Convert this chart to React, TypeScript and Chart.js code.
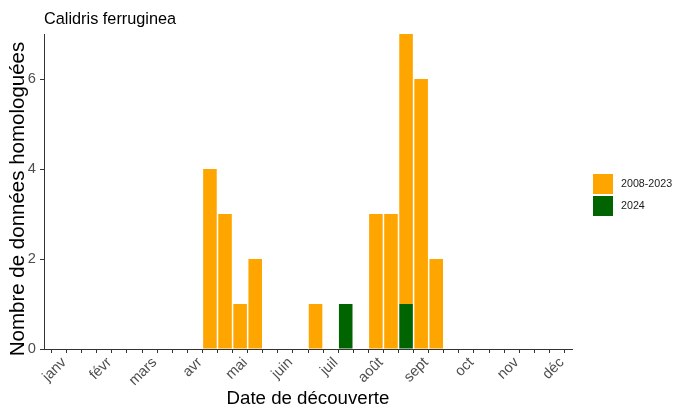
import React, { useEffect, useRef } from 'react';
import { Chart, registerables } from 'chart.js';
Chart.register(...registerables);

const chartTitle = 'Calidris ferruginea';
const xTitle = 'Date de découverte';
const yTitle = 'Nombre de données homologuées';
const monthLabels = ['janv', 'févr', 'mars', 'avr', 'mai', 'juin', 'juil', 'août', 'sept', 'oct', 'nov', 'déc'];
// ten-day periods (décades) 0..35 on the x axis
const decades = ['0','1','2','3','4','5','6','7','8','9','10','11','12','13','14','15','16','17','18','19','20','21','22','23','24','25','26','27','28','29','30','31','32','33','34','35'];
const counts2008_2023 = [0,0,0,0,0,0,0,0,0,0,0,4,3,1,2,0,0,0,1,0,0,0,3,3,6,6,2,0,0,0,0,0,0,0,0,0];
const counts2024 = [0,0,0,0,0,0,0,0,0,0,0,0,0,0,0,0,0,0,0,0,1,0,0,0,1,0,0,0,0,0,0,0,0,0,0,0];
const yTicks = [0, 2, 4, 6];
const yMax = 7;

const FONT = '"Liberation Sans", Arial, sans-serif';

const overlayPlugin = {
  id: 'overlay',
  afterDraw(chart: any) {
    const { ctx, chartArea } = chart;
    ctx.save();
    // title
    ctx.fillStyle = '#000';
    ctx.font = `16.3px ${FONT}`;
    ctx.textAlign = 'left';
    ctx.textBaseline = 'alphabetic';
    ctx.fillText(chartTitle, chartArea.left, 24);
    // y axis title
    ctx.save();
    ctx.translate(23.5, 199);
    ctx.rotate(-Math.PI / 2);
    ctx.font = `20.5px ${FONT}`;
    ctx.textAlign = 'center';
    ctx.textBaseline = 'alphabetic';
    ctx.fillText(yTitle, 0, 0);
    ctx.restore();
    // legend (reverse dataset order like ggplot)
    const items = [...chart.data.datasets].reverse();
    const x0 = chartArea.right + 21;
    let y = 174;
    ctx.font = `10.7px ${FONT}`;
    ctx.textAlign = 'left';
    ctx.textBaseline = 'middle';
    items.forEach((ds: any) => {
      ctx.fillStyle = ds.backgroundColor;
      ctx.fillRect(x0, y, 20, 20);
      ctx.fillStyle = '#1a1a1a';
      ctx.fillText(ds.label, x0 + 28, y + 10.5);
      y += 22;
    });
    ctx.restore();
  },
};

export default function App() {
  const ref = useRef<HTMLCanvasElement>(null);
  useEffect(() => {
    document.body.style.margin = '0';
    const canvas = ref.current!;
    const chart = new Chart(canvas, {
      type: 'bar',
      data: {
        labels: decades,
        datasets: [
          {
            label: '2024',
            data: counts2024.map((v) => (v ? v : null)),
            backgroundColor: '#006400',
            barPercentage: 0.9,
            categoryPercentage: 1,
          },
          {
            label: '2008-2023',
            data: counts2008_2023.map((v) => (v ? v : null)),
            backgroundColor: '#FFA500',
            barPercentage: 0.9,
            categoryPercentage: 1,
          },
        ],
      },
      options: {
        responsive: false,
        animation: false,
        devicePixelRatio: 1,
        layout: { padding: { top: 34, right: 105, left: 0, bottom: 0 } },
        plugins: { legend: { display: false }, tooltip: { enabled: false }, title: { display: false } },
        scales: {
          x: {
            stacked: true,
            offset: false,
            afterFit: (s: any) => { s.height = 65; },
            grid: { display: true, drawOnChartArea: false, drawTicks: true, tickLength: 4, color: '#333333', lineWidth: 1 },
            border: { display: true, color: '#333333', width: 1 },
            ticks: {
              autoSkip: false,
              minRotation: 45,
              maxRotation: 45,
              padding: 1,
              labelOffset: 5,
              color: '#4D4D4D',
              font: { family: FONT, size: 14.67 },
              callback: (_v: any, i: number) => (i % 3 === 1 ? monthLabels[(i - 1) / 3] : ''),
            },
            title: { display: true, text: xTitle, color: '#000', font: { family: FONT, size: 18.67 }, padding: { top: 0, bottom: 3.6 } },
          },
          y: {
            stacked: true,
            min: 0,
            max: yMax,
            afterFit: (s: any) => { s.width = 44; },
            afterBuildTicks: (s: any) => { s.ticks = yTicks.map((v) => ({ value: v })); },
            grid: { display: true, drawOnChartArea: false, drawTicks: true, tickLength: 4, color: '#333333', lineWidth: 1 },
            border: { display: true, color: '#333333', width: 1 },
            ticks: { padding: 4, color: '#4D4D4D', font: { family: FONT, size: 14.67 } },
            title: { display: false },
          },
        },
      },
      plugins: [overlayPlugin],
    });
    return () => chart.destroy();
  }, []);
  return (
    <div style={{ width: 677, height: 414, position: 'relative', background: '#fff' }}>
      <canvas ref={ref} width={677} height={414} style={{ display: 'block' }} />
    </div>
  );
}
